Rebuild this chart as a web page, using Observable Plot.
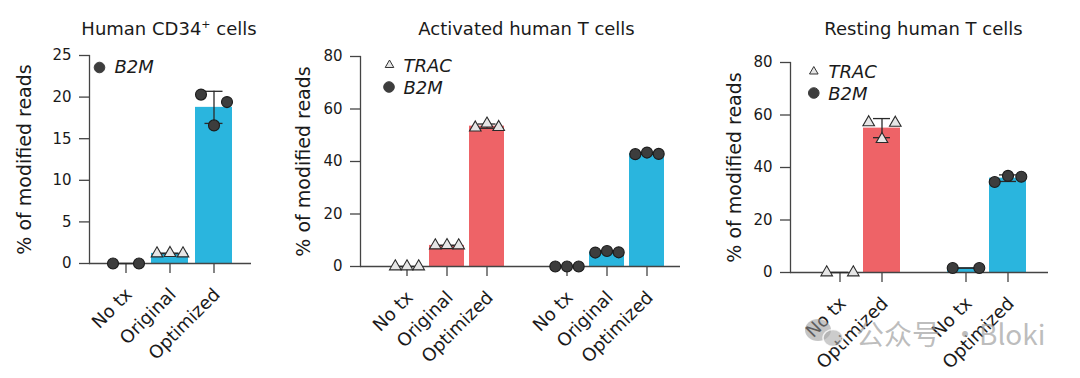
<!DOCTYPE html>
<html>
<head>
<meta charset="utf-8">
<script src="https://cdn.jsdelivr.net/npm/d3@7"></script>
<script src="https://cdn.jsdelivr.net/npm/@observablehq/plot@0.6"></script>
<style>
html, body { margin: 0; padding: 0; background: #fff; }
#root { position: relative; width: 1080px; height: 378px; overflow: hidden; font-family: "DejaVu Sans", sans-serif; color: #1a1a1a; }
.panel { position: absolute; top: 0; }
.title { position: absolute; font-size: 18px; white-space: nowrap; transform: translate(-50%, -50%); }
.title sup { font-size: 11px; vertical-align: 7px; line-height: 0; }
.wm { position: absolute; top: 313px; font-family: "Noto Sans CJK SC", sans-serif; font-size: 28px; line-height: 40px; color: rgba(160,160,160,0.7); white-space: nowrap; }
.wmicon { position: absolute; left: 800px; top: 316px; }
</style>
</head>
<body>
<div id="root"></div>
<script>
// ---------- data ----------
// Panel 1: Human CD34+ cells (B2M)
const cd34Categories = ["No tx", "Original", "Optimized"];
const cd34B2M = [[0, null, 0], [1.2, 1.25, 1.2], [20.3, 16.6, 19.4]];
const cd34Markers = ["circle", "triangle", "circle"];
const cd34Ticks = [0, 5, 10, 15, 20, 25];

// Panel 2: Activated human T cells
const actCategories = ["No tx", "Original", "Optimized"];
const actTRAC = [[0, 0, 0], [8.0, 8.1, 8.0], [52.9, 54.4, 53.1]];
const actB2M = [[0, 0, 0], [5.3, 5.9, 5.4], [42.8, 43.4, 42.9]];
const actTicks = [0, 20, 40, 60, 80];

// Panel 3: Resting human T cells
const restCategories = ["No tx", "Optimized"];
const restTRAC = [[0, null, 0], [57.2, 50.8, 57.0]];
const restB2M = [[1.7, null, 1.7], [34.5, 36.8, 36.5]];
const restTicks = [0, 20, 40, 60, 80];

const genes = ["TRAC", "B2M"];
const geneColors = ["#EE6367", "#2AB5DE"];
const yTitle = "% of modified reads";
const watermark = ["公众号", "·", "Bloki"];

// ---------- drawing ----------
const root = document.getElementById("root");
const lo = v => d3.mean(v) - (d3.deviation(v) || 0);
const hi = v => d3.mean(v) + (d3.deviation(v) || 0);
const TICK_PX = 10;

function drawPanel(cfg) {
  const rows = [];
  const domain = [];
  cfg.series.forEach((s, si) => {
    if (si > 0) domain.push("gap" + si);
    cfg.categories.forEach((cat, i) => {
      const key = s.gene + "|" + cat;
      domain.push(key);
      s.reads[i].forEach((v, r) => {
        if (v !== null) rows.push({key, gene: s.gene, marker: s.markers[i], rep: r, value: v});
      });
    });
  });
  const tickKeys = domain.filter(k => !k.startsWith("gap"));
  // length of the category tick marks, converted from pixels to y units
  const frameH = 378 - cfg.marginTop - cfg.marginBottom;
  const tickUnits = (cfg.yDomain[1] - cfg.yDomain[0]) * TICK_PX / frameH;

  const points = [];
  for (const marker of ["circle", "triangle"]) {
    for (let r = 0; r < 3; r++) {
      const sub = rows.filter(d => d.marker === marker && d.rep === r);
      if (!sub.length) continue;
      points.push(Plot.dot(sub, {
        x: "key", y: "value", dx: (r - 1) * cfg.spread,
        symbol: marker,
        r: marker === "circle" ? 5.5 : 4.3,
        fill: marker === "circle" ? "#3d3d3d" : "#e6e6e6",
        stroke: marker === "circle" ? "#1c1c1c" : "#2a2a2a",
        strokeWidth: 1.1
      }));
    }
  }

  const legend = [];
  cfg.legend.forEach(l => {
    legend.push(Plot.dot([l.label], {
      frameAnchor: "top-left", dx: l.mx, dy: l.my,
      symbol: l.marker, r: l.marker === "circle" ? 5.3 : 3.2,
      fill: l.marker === "circle" ? "#3d3d3d" : "#e6e6e6",
      stroke: l.marker === "circle" ? "#3d3d3d" : "#333", strokeWidth: 1
    }));
    legend.push(Plot.text([l.label], {
      frameAnchor: "top-left", dx: l.tx, dy: l.ty, text: d => d,
      textAnchor: "start", lineAnchor: "middle", fontStyle: "italic", fontSize: 18, fill: "#1a1a1a"
    }));
  });

  const errStyle = {stroke: "#2a2a2a", strokeWidth: 1.3};
  const svg = Plot.plot({
    width: cfg.width, height: 378,
    marginLeft: cfg.marginLeft, marginRight: cfg.marginRight,
    marginTop: cfg.marginTop, marginBottom: cfg.marginBottom,
    style: {fontFamily: "DejaVu Sans, sans-serif", fontSize: "15px", color: "#1a1a1a", background: "transparent", overflow: "visible"},
    x: {type: "band", domain, range: cfg.xRange, padding: cfg.padding},
    y: {domain: cfg.yDomain, clamp: false},
    color: {domain: genes, range: geneColors},
    marks: [
      Plot.barY(rows, Plot.groupX({y: "mean"}, {x: "key", y: "value", fill: "gene"})),
      Plot.ruleX(tickKeys, {x: d => d, y1: 0, y2: -tickUnits, stroke: "#444", strokeWidth: 1.3}),
      Plot.ruleY([0], {stroke: "#444", strokeWidth: 1.3}),
      Plot.frame({anchor: "left", stroke: "#444", strokeWidth: 1.3}),
      Plot.ruleX(rows, Plot.groupX({y1: lo, y2: hi}, {x: "key", y1: "value", y2: "value", ...errStyle})),
      Plot.tickY(rows, Plot.groupX({y: lo}, {x: "key", y: "value", insetLeft: cfg.capInset, insetRight: cfg.capInset, ...errStyle})),
      Plot.tickY(rows, Plot.groupX({y: hi}, {x: "key", y: "value", insetLeft: cfg.capInset, insetRight: cfg.capInset, ...errStyle})),
      ...points,
      Plot.axisY({ticks: cfg.yTicks, tickSize: 10, tickPadding: 8, fontSize: 15, stroke: "#444", strokeWidth: 1.3, label: null}),
      Plot.axisX(tickKeys, {tickRotate: -45, tickSize: 0, tickPadding: 28, dx: 3, fontSize: 18, tickFormat: d => d.split("|")[1], label: null}),
      Plot.text([yTitle], {frameAnchor: "left", dx: cfg.labelDx, rotate: -90, text: d => d, textAnchor: "middle", lineAnchor: "middle", fontSize: 19, fill: "#1a1a1a"}),
      ...legend
    ]
  });
  svg.classList.add("panel");
  svg.style.left = cfg.left + "px";
  root.appendChild(svg);

  const t = document.createElement("div");
  t.className = "title";
  t.innerHTML = cfg.title;
  t.style.left = cfg.titleX + "px";
  t.style.top = cfg.titleY + "px";
  root.appendChild(t);
}

drawPanel({
  left: 0, width: 270, marginLeft: 89, marginRight: 19, marginTop: 55, marginBottom: 115,
  xRange: [99, 240], padding: 0.17, spread: 13, capInset: 9.5,
  yDomain: [0, 25], yTicks: cd34Ticks, labelDx: -65,
  categories: cd34Categories,
  series: [{gene: "B2M", reads: cd34B2M, markers: cd34Markers}],
  legend: [{label: "B2M", marker: "circle", mx: 10, my: 12, tx: 25, ty: 12}],
  title: "Human CD34<sup>+</sup> cells", titleX: 169, titleY: 28
});

drawPanel({
  left: 270, width: 420, marginLeft: 90, marginRight: 10, marginTop: 56, marginBottom: 112,
  xRange: [113.3, 399.3], padding: 0.13, spread: 11.7, capInset: 8.5,
  yDomain: [0, 80], yTicks: actTicks, labelDx: -56.5,
  categories: actCategories,
  series: [
    {gene: "TRAC", reads: actTRAC, markers: ["triangle", "triangle", "triangle"]},
    {gene: "B2M", reads: actB2M, markers: ["circle", "circle", "circle"]}
  ],
  legend: [
    {label: "TRAC", marker: "triangle", mx: 29, my: 8.5, tx: 43, ty: 9.5},
    {label: "B2M", marker: "circle", mx: 28.5, my: 30.5, tx: 43, ty: 31.5}
  ],
  title: "Activated human T cells", titleX: 526.5, titleY: 28
});

drawPanel({
  left: 700, width: 380, marginLeft: 90, marginRight: 32, marginTop: 62, marginBottom: 106,
  xRange: [113.9, 333.1], padding: 0.11, spread: 13.3, capInset: 10,
  yDomain: [0, 80], yTicks: restTicks, labelDx: -56,
  categories: restCategories,
  series: [
    {gene: "TRAC", reads: restTRAC, markers: ["triangle", "triangle"]},
    {gene: "B2M", reads: restB2M, markers: ["circle", "circle"]}
  ],
  legend: [
    {label: "TRAC", marker: "triangle", mx: 23.3, my: 9, tx: 38, ty: 10},
    {label: "B2M", marker: "circle", mx: 23.3, my: 30.5, tx: 37.7, ty: 31.5}
  ],
  title: "Resting human T cells", titleX: 923.5, titleY: 27.5
});

// watermark overlay (WeChat-style)
const icon = document.createElementNS("http://www.w3.org/2000/svg", "svg");
icon.setAttribute("width", 48); icon.setAttribute("height", 36);
icon.setAttribute("class", "wmicon");
icon.innerHTML = '<ellipse cx="18" cy="14" rx="13" ry="11" fill="rgba(150,150,150,0.55)"/>' +
  '<ellipse cx="33" cy="22" rx="10" ry="8.5" fill="rgba(170,170,170,0.6)" stroke="rgba(255,255,255,0.8)" stroke-width="1.5"/>';
root.appendChild(icon);
[[856, watermark[0]], [951, watermark[1]], [979, watermark[2]]].forEach(([x, s]) => {
  const d = document.createElement("div");
  d.className = "wm";
  d.style.left = x + "px";
  d.textContent = s;
  root.appendChild(d);
});
</script>
</body>
</html>
